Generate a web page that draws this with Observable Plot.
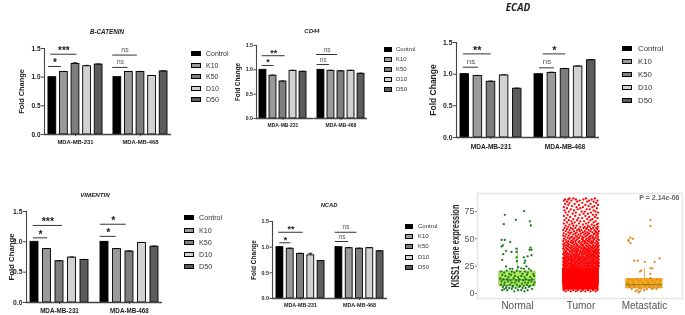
<!DOCTYPE html>
<html><head><meta charset="utf-8">
<script src="https://cdn.jsdelivr.net/npm/d3@7"></script>
<script src="https://cdn.jsdelivr.net/npm/@observablehq/plot@0.6"></script>
<style>
html,body{margin:0;padding:0;background:#fff}
#fig{position:relative;width:685px;height:315px;overflow:hidden;font-family:"Liberation Sans",Arial,sans-serif;color:#222;filter:blur(.45px)}
#fig svg{position:absolute;background:transparent;max-width:none}
.t{position:absolute;font-weight:bold;font-style:italic;transform:translate(-50%,-50%);white-space:nowrap;color:#222;line-height:1}
.l{position:absolute;display:flex;align-items:center;color:#333;white-space:nowrap}
.l i{display:block;box-sizing:border-box;border:1px solid #000;height:5px}
</style></head><body><div id="fig"></div>
<script>
const treatments = ["Control","K10","K50","D10","D50"];
const groups = ["MDA-MB-231","MDA-MB-468"];
const barColors = ["#000000","#9a9a9a","#7e7e7e","#d2d2d2","#5c5c5c"];

const bCatenin231 = [1.0,1.09,1.23,1.19,1.22];
const bCatenin468 = [1.0,1.09,1.09,1.02,1.10];
const cd44231 = [1.0,0.88,0.76,0.98,0.96];
const cd44468 = [1.0,0.98,0.97,0.98,0.92];
const ecad231 = [1.0,0.97,0.88,0.98,0.77];
const ecad468 = [1.0,1.02,1.08,1.12,1.22];
const vimentin231 = [1.0,0.88,0.68,0.74,0.70];
const vimentin468 = [1.0,0.88,0.84,0.98,0.92];
const ncad231 = [1.0,0.97,0.87,0.84,0.73];
const ncad468 = [1.0,0.98,0.97,0.98,0.92];

const bCateninErr231 = [0,0.01,0.02,0.015,0.01];
const bCateninErr468 = [0,0.01,0.01,0.01,0.01];
const cd44Err231 = [0,0.01,0.01,0.01,0.01];
const cd44Err468 = [0,0.01,0.01,0.01,0.01];
const ecadErr231 = [0,0.01,0.01,0.01,0.01];
const ecadErr468 = [0,0.01,0.01,0.01,0.01];
const vimentinErr231 = [0,0.01,0.01,0.01,0.01];
const vimentinErr468 = [0,0.01,0.01,0.01,0.01];
const ncadErr231 = [0,0.01,0.01,0.04,0.01];
const ncadErr468 = [0,0.01,0.01,0.01,0.01];

// [cell line index, from, to (in bar units), level, label]
const bCateninBrackets = [[0,.16,1.27,1.187,"*"],[0,.36,2.63,1.40,"***"],[1,.1,1.42,1.17,"ns"],[1,.1,2.23,1.385,"ns"]];
const cd44Brackets = [[0,.42,1.61,1.09,"*"],[0,.42,2.72,1.29,"**"],[1,.12,1.34,1.11,"ns"],[1,.06,2.17,1.315,"ns"]];
const ecadBrackets = [[0,.4,1.55,1.11,"ns"],[0,.4,2.52,1.32,"**"],[1,.56,1.7,1.10,"ns"],[1,.84,2.56,1.32,"*"]];
const vimentinBrackets = [[0,.4,1.56,1.066,"*"],[0,.4,2.74,1.27,"***"],[1,.16,1.44,1.09,"*"],[1,.16,2.24,1.29,"*"]];
const ncadBrackets = [[0,.48,1.58,1.085,"*"],[0,.38,2.76,1.29,"**"],[1,.16,1.44,1.11,"ns"],[1,.13,2.25,1.29,"ns"]];

const sampleNames = ["Normal","Tumor","Metastatic"];
const sampleColors = ["#1d7a1d","#ff0000","#dd8a22"];
// [jitter in hundredths of a category step, expression]
const normalPoints = [[-20,72],[10.5,75.3],[-2.6,67.4],[19.5,65.9],[21,62.2],[-21.5,63.4],[-25,49],[-20,49],[-11.5,47],[-23,44],[-25,43],[-1.6,41],[20.5,42],[19,40],[22,40],[-9.5,38],[-18,39],[-1.6,38],[-22.5,36],[16,34],[10,33],[22,35],[12,30],[-1.6,33],[-1,29.5],[11,28],[-24,30.8],[-18,24.7],[-12,22.6],[-8,22.6],[1,24],[6,23],[14,24.7],[10,22.6],[18,22.6],
[-26,20],[-21,19],[-17,21],[-13,18],[-9,20],[-5,19],[-1,21],[4,20],[8,18],[12,20],[16,19],[21,21],[25,18],[-24,17],[-19,16],[-14,15],[-10,17],[-4,16],[1,15],[6,16],[11,15],[15,17],[20,15],[26,16],[-27,14],[-22,13],[-16,13],[-11,12],[-6,14],[-2,12],[3,13],[9,12],[13,13],[18,12],[23,13],[-25,11],[-20,10],[-15,11],[-9,10],[-4,10],[2,11],[7,9],[12,10],[17,10],[22,11],[27,10],[-26,8],[-21,8],[-17,7],[-12,8],[-7,7],[-1,8],[4,7],[10,7],[15,8],[20,7],[25,8],[-23,6],[-18,5],[-13,5],[-8,6],[-3,5],[3,6],[8,5],[13,5],[18,6],[23,4],[-24,3],[-16,3],[-9,4],[-5,2],[1,3],[6,3],[11,2],[16,3],[-21,4]];
const metastaticPoints = [[9.5,67.4],[9.5,61.6],[-22,51],[-18,50],[-25,49],[-25,48],[-22,46],[-16,30],[-10.5,30],[0.5,29],[16,29],[24,32],[-5,21],[-7,20],[9.5,23],[12.6,23],[9.5,18],[9.5,14],
[-24,13],[-19,12],[-12,13],[-6,12],[3,12],[12,12],[20,13],[25,12],[-26,10],[-17,10],[-9,11],[-2,10],[6,10],[16,10],[23,9],[-21,8],[-13,8],[-4,8],[10,8],[18,8],[-23,6],[-16,6],[-8,5],[1,7],[8,6],[14,5],[22,6],[-20,4],[-11,3],[-5,4],[4,4],[12,4],[19,4],[-14,2],[-7,2],[0,3],[-9,1]];
// [expression, jitters...] read row by row from the upper, speckled part of the cloud
const tumorRows = [
[87,-18,-12,8,22],[86,-25,-20,-8,4,17],[85,-27,-15,-2,13,26],[84,-22,-6,10,20],[83,-18,2,24],[82,-25,-10,15],[81,-20,-3,7,27],[80,-14,12,21],[79,-27,-7,3,18],[78,-22,-1,25],[77,-16,-5,9,14],[76,-26,-11,20],[75,-19,1,6,23],[74,-24,-8,16,27],[73,-13,4,11],[72,-21,-2,19,24],[71,-27,-9,7],[70,-17,13,22],[69,-23,-4,2,26],[68,-12,10,18],[67,-26,-19,-6,15],[66,-15,-1,5,23],[65,-22,-10,12,20],[64,-27,-14,-3,8,27],[63,-18,3,17,25],[62,-24,-12,-7,11,21],[61,-20,-1,6,14,27],
[60,-26,-16,-9,4,10,19,24],[59,-22,-13,-3,8,16,26],[58,-28,-18,-6,1,12,21],[57,-24,-11,-2,6,15,23,28],[56,-20,-15,-7,3,10,18,25],[55,-27,-17,-9,0,7,13,22,27],[54,-23,-12,-4,5,11,20,26],[53,-28,-19,-8,-1,9,16,24],[52,-25,-14,-6,2,7,14,19,27],[51,-21,-16,-10,-3,4,12,18,23],[50,-27,-18,-11,-5,1,9,15,21,26],[49,-24,-13,-7,3,8,13,20,28],[48,-28,-20,-15,-9,-2,5,11,17,24],[47,-23,-17,-12,-4,2,7,14,19,26],[46,-26,-21,-14,-8,-1,6,10,16,22,27],[45,-28,-19,-11,-6,0,4,12,18,25],
[44,-25,-22,-16,-10,-5,2,8,13,20,24,28],[43,-27,-20,-13,-7,-2,4,10,15,18,23,26],[42,-24,-18,-15,-9,-3,1,6,12,17,21,27],[41,-28,-22,-16,-11,-6,0,5,9,14,19,25],[40,-26,-20,-13,-8,-4,3,7,11,16,22,24,28],[39,-23,-18,-14,-10,-5,-1,4,9,13,18,21,26],[38,-27,-24,-17,-12,-7,-2,2,6,11,15,20,23,27],[37,-25,-21,-15,-9,-6,0,5,8,12,17,22,25,28],[36,-28,-22,-19,-13,-8,-3,1,4,10,14,19,24,26],[35,-26,-23,-16,-11,-7,-4,2,7,11,16,18,21,27],[34,-24,-20,-17,-14,-9,-5,-1,3,8,13,15,20,23,28],
[33,-27,-25,-21,-16,-12,-8,-3,0,5,9,12,17,22,25,27],[32,-28,-23,-19,-15,-10,-6,-2,2,6,10,14,19,24,26],[31,-26,-24,-20,-17,-13,-9,-4,-1,4,8,11,16,18,21,28],[30,-27,-22,-18,-14,-11,-7,-3,1,5,7,12,15,20,23,26],[29,-28,-25,-21,-16,-12,-8,-5,0,3,9,13,17,19,24,27],[28,-26,-23,-19,-15,-10,-6,-2,2,6,10,14,18,22,25,28],[27,-27,-24,-20,-17,-13,-9,-4,-1,4,8,11,16,20,23,26],[26,-28,-25,-22,-18,-14,-11,-7,-3,1,5,9,12,15,19,24,27],[25,-26,-23,-21,-16,-12,-8,-5,-2,3,6,10,14,17,21,25,28],[24,-27,-24,-19,-15,-13,-10,-6,-1,2,7,11,13,18,22,26],[23,-28,-25,-20,-17,-14,-9,-4,0,4,8,12,16,20,23,27],
[3,-27,-20,-12,-5,3,11,19,26],[2,-24,-16,-8,0,7,15,23]];
const tumorDense = [3,23];
const boxStats = [[20,6.5,12.5,41,2],[22,8,13,23,3],[13.3,4.6,8,23,1]]; // q3,q1,median,whisker high,whisker low
const boxFills = ["#b3ea5c","#ff0000","#f6ab1d"];
const boxStrokes = ["#8cc63f","#ff0000","#e8961a"];

const fig = document.getElementById("fig");

function title(text,x,y,size,family){
  const d=document.createElement("div");d.className="t";d.textContent=text;
  d.style.cssText=`left:${x}px;top:${y}px;font-size:${size}px;`+(family?`font-family:${family};`:"");
  fig.appendChild(d);
}
function legend(x,ys,swatch,textX,size){
  treatments.forEach((name,i)=>{
    const d=document.createElement("div");d.className="l";
    d.style.cssText=`left:${x}px;top:${ys[i]-6}px;height:12px;font-size:${size}px;`;
    const s=document.createElement("i");s.style.cssText=`width:${swatch}px;background:${barColors[i]};margin-right:${textX-x-swatch}px;`;
    d.appendChild(s);d.appendChild(document.createTextNode(name));
    fig.appendChild(d);
  });
}

function barPanel(o){
  const W=o.step*5+2*o.pad;
  const gap=o.groupStep-W;
  const pad=o.pad/o.step;
  const left=o.axisX-32,top=o.y15-8;
  const width=32+o.groupStep+W+4,height=o.y0-top+16;
  const rows=[];
  groups.forEach((g,gi)=>o.values[gi].forEach((v,i)=>rows.push({g,i,v,e:o.errs[gi][i],name:treatments[i]})));
  const br=o.brackets.map(b=>({g:groups[b[0]],x1:b[1],x2:b[2],y:b[3],label:b[4]}));
  const plot=Plot.plot({
    width,height,marginLeft:32,marginRight:4,marginTop:8,marginBottom:16,
    style:{background:"transparent",fontFamily:'"Liberation Sans",Arial,sans-serif',overflow:"visible"},
    fx:{domain:groups,paddingInner:1-W/o.groupStep,paddingOuter:0,axis:null,label:null},
    x:{domain:[-pad,5+pad],axis:null},
    y:{domain:[0,1.5],axis:null},
    marks:[
      Plot.rectY(rows,{fx:"g",x1:"i",x2:d=>d.i+1,y1:0,y2:"v",fill:d=>barColors[d.i],stroke:"#000",strokeWidth:.9,insetLeft:o.inset,insetRight:o.inset}),
      Plot.ruleX(rows.filter(d=>d.e>0),{fx:"g",x:d=>d.i+.5,y1:"v",y2:d=>d.v+d.e,stroke:"#000",strokeWidth:.8}),
      Plot.ruleY(rows.filter(d=>d.e>0),{fx:"g",x1:d=>d.i+.3,x2:d=>d.i+.7,y:d=>d.v+d.e,stroke:"#000",strokeWidth:.8}),
      Plot.ruleY([0],{fx:()=>groups[0],stroke:"#444",strokeWidth:1.3,insetRight:-gap}),
      Plot.ruleY([0],{fx:()=>groups[1],stroke:"#444",strokeWidth:1.3}),
      Plot.ruleX([-pad],{fx:()=>groups[0],y1:0,y2:1.5,stroke:"#444",strokeWidth:1.1}),
      Plot.ruleY(br,{fx:"g",x1:"x1",x2:"x2",y:"y",stroke:"#333",strokeWidth:1}),
      Plot.text(br.filter(d=>d.label!=="ns"),{fx:"g",x:d=>(d.x1+d.x2)/2,y:"y",text:"label",fontSize:o.star,fontWeight:"bold",fill:"#222",lineAnchor:"bottom",dy:0}),
      Plot.text(br.filter(d=>d.label==="ns"),{fx:"g",x:d=>(d.x1+d.x2)/2,y:"y",text:"label",fontSize:o.ns,fill:"#555",lineAnchor:"bottom",dy:-o.ns*.45}),
      Plot.axisY({ticks:[0,.5,1,1.5],tickFormat:".1f",tickSize:o.tick,tickPadding:1,fontSize:o.tickFont,fontWeight:"bold",stroke:"#444",fill:"#222",
        label:"Fold Change",labelAnchor:"center",labelArrow:"none",labelOffset:o.labelOffset,marginLeft:32}),
      Plot.axisFx({anchor:"bottom",tickSize:2,tickPadding:o.gp,fontSize:o.groupFont,fontWeight:"bold",fill:"#222",stroke:"#444",label:null})
    ]
  });
  plot.style.left=left+"px";plot.style.top=top+"px";
  plot.querySelectorAll('[aria-label="y-axis label"] text, [aria-label="y-axis label"]').forEach(n=>{n.style.fontSize=o.labelFont+"px";n.style.fontWeight="bold";n.style.fill="#222";});
  fig.appendChild(plot);
}

barPanel({values:[bCatenin231,bCatenin468],errs:[bCateninErr231,bCateninErr468],brackets:bCateninBrackets,axisX:43,y15:48,y0:134,step:11.75,pad:2.1,groupStep:66,inset:1.9,tick:3,tickFont:6.5,groupFont:5.9,gp:3,labelFont:7.4,labelOffset:26,star:10,ns:7});
barPanel({values:[cd44231,cd44468],errs:[cd44Err231,cd44Err468],brackets:cd44Brackets,axisX:256,y15:45,y0:118,step:10.1,pad:1.45,groupStep:58,inset:1.55,tick:2.5,tickFont:5.2,groupFont:5,gp:3,labelFont:6.3,labelOffset:21,star:9,ns:6.5});
barPanel({values:[ecad231,ecad468],errs:[ecadErr231,ecadErr468],brackets:ecadBrackets,axisX:456,y15:42,y0:137,step:13.1,pad:1.7,groupStep:74,inset:2.3,tick:3,tickFont:6.8,groupFont:6.6,gp:5,labelFont:8.5,labelOffset:27,star:11,ns:8});
barPanel({values:[vimentin231,vimentin468],errs:[vimentinErr231,vimentinErr468],brackets:vimentinBrackets,axisX:26,y15:211,y0:302,step:12.5,pad:1.75,groupStep:70.3,inset:2.25,tick:3,tickFont:6.8,groupFont:6.3,gp:4,labelFont:7.8,labelOffset:18,star:10.5,ns:7});
barPanel({values:[ncad231,ncad468],errs:[ncadErr231,ncadErr468],brackets:ncadBrackets,axisX:271,y15:221,y0:298,step:10.4,pad:2.3,groupStep:59.7,inset:1.7,tick:2.5,tickFont:5.4,groupFont:5.4,gp:3,labelFont:6.6,labelOffset:21,star:9,ns:6.5});

title("B-CATENIN",107,32,6.3);
title("CD44",312,31,6);
title("ECAD",518,6.5,10,'"Open Sans"');
title("VIMENTIN",95,195,6.2);
title("NCAD",329,206,5.8);

legend(191,[53,65,76,88,99],9.5,206,7);
legend(384,[49,59,69,79,89],8,396,6);
legend(622,[48,61,74,87,100],10,638,7.8);
legend(184,[217,230,242,254,266],9.5,199,7.2);
legend(405,[226,236,246,257,267],8,418,6);

// KISS1 jitter panel
(function(){
  const normalPts=normalPoints.map(p=>({x:p[0]/100,y:p[1]}));
  const tumorPts=[];
  tumorRows.forEach(r=>r.slice(1).forEach(o=>tumorPts.push({x:1+o/100,y:r[0]})));
  const metPts=metastaticPoints.map(p=>({x:2+p[0]/100,y:p[1]}));
  const boxes=boxStats.map((b,i)=>({i,q3:b[0],q1:b[1],med:b[2],hi:b[3],lo:b[4]}));
  const plot=Plot.plot({
    width:255,height:125,marginLeft:47,marginRight:3,marginTop:3,marginBottom:17,
    style:{background:"transparent",fontFamily:'"Liberation Sans",Arial,sans-serif',overflow:"visible"},
    x:{domain:[-.63,2.6],axis:null},
    y:{domain:[-4.6,91.5],axis:null},
    marks:[
      Plot.frame({stroke:"#e6e6e6",strokeWidth:1.5}),
      Plot.rect(boxes,{x1:d=>d.i-.285,x2:d=>d.i+.285,y1:"q1",y2:"q3",fill:d=>boxFills[d.i],stroke:d=>boxStrokes[d.i],strokeWidth:.8}),
      Plot.rect([tumorDense],{x1:()=>1-.285,x2:()=>1+.285,y1:d=>d[0],y2:d=>d[1],fill:"#ff0000"}),
      Plot.ruleX(boxes.filter(d=>d.i!==1),{x:"i",y1:"q3",y2:"hi",stroke:d=>boxStrokes[d.i],strokeWidth:.8}),
      Plot.ruleX(boxes.filter(d=>d.i!==1),{x:"i",y1:"lo",y2:"q1",stroke:d=>boxStrokes[d.i],strokeWidth:.8}),
      Plot.ruleY(boxes.filter(d=>d.i!==1),{x1:d=>d.i-.285,x2:d=>d.i+.285,y:"med",stroke:"#336622",strokeWidth:.8}),
      Plot.dot(normalPts,{x:"x",y:"y",r:1.15,fill:sampleColors[0],stroke:"none"}),
      Plot.dot(tumorPts,{x:"x",y:"y",r:1.15,fill:sampleColors[1],stroke:"none"}),
      Plot.dot(metPts,{x:"x",y:"y",r:1.15,fill:sampleColors[2],stroke:"none"}),
      Plot.axisY({ticks:[0,25,50,75],tickSize:2,tickPadding:1,fontSize:9,fill:"#555",stroke:"#888",
        label:"KISS1 gene expression",labelAnchor:"center",labelArrow:"none",labelOffset:26}),
      Plot.axisX({ticks:[0,1,2],tickFormat:i=>sampleNames[i],tickSize:1.5,tickPadding:2,fontSize:10,fill:"#555",stroke:"#bbb",label:null}),
      Plot.text(["P = 2.14e-06"],{frameAnchor:"top-right",dx:-3,dy:2,text:d=>d,fontSize:7,fontWeight:"bold",fill:"#666"})
    ]
  });
  plot.style.left="430px";plot.style.top="190px";
  plot.querySelectorAll('[aria-label="y-axis label"] text').forEach(n=>{n.style.fontSize="10px";n.style.fontWeight="bold";n.style.fill="#222";n.setAttribute("textLength","83");n.setAttribute("lengthAdjust","spacingAndGlyphs");});
  plot.querySelectorAll('[aria-label="y-axis label"]').forEach(n=>{n.style.fontSize="10px";n.style.fontWeight="bold";n.style.fill="#222";});
  fig.appendChild(plot);
})();
</script></body></html>
